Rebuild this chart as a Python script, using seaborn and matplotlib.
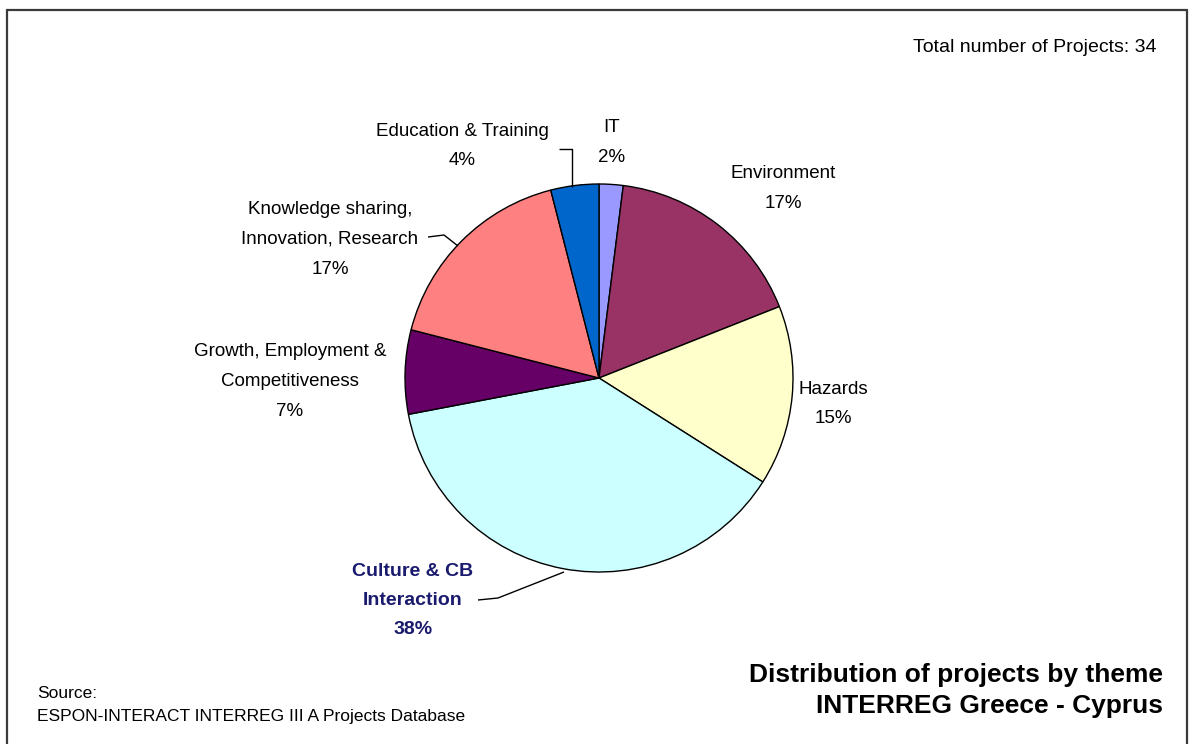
import matplotlib
matplotlib.use("Agg")
import matplotlib.pyplot as plt
import seaborn as sns

# Project themes (clockwise from 12 o'clock) and their shares in percent
themes = ["IT", "Environment", "Hazards", "Culture & CB\nInteraction",
          "Growth, Employment &\nCompetitiveness", "Knowledge sharing,\nInnovation, Research",
          "Education & Training"]
shares = [2, 17, 15, 38, 7, 17, 4]
theme_colors = ["#9999FF", "#993366", "#FFFFCC", "#CCFFFF", "#660066", "#FF8080", "#0066CC"]
total_projects = 34

sns.set_theme(style="white")
plt.rcParams["font.family"] = ["Liberation Sans", "DejaVu Sans"]
palette = sns.color_palette(theme_colors)

W, H = 1195, 744
fig = plt.figure(figsize=(W / 100, H / 100), dpi=100)
ax = fig.add_axes([0, 0, 1, 1])

def py(y):
    # pixel row (top-down) to axis y (bottom-up)
    return H - y

cx, cy, r = 599, 378, 194
ax.pie(shares, colors=palette, startangle=90, counterclock=False,
       center=(cx, py(cy)), radius=r, frame=True,
       wedgeprops=dict(edgecolor="black", linewidth=1.0))
ax.set_xlim(0, W)
ax.set_ylim(0, H)
ax.set_aspect("auto")
ax.axis("off")

# label anchor points (text centre of first line) in pixel coordinates
label_pos = [(612, 128), (783, 174), (833, 389), (413, 571), (290, 352), (330, 210), (462, 131)]
line_gap = 29.5
for name, val, (lx, ly) in zip(themes, shares, label_pos):
    lines = name.split("\n") + [f"{val}%"]
    bold = name.startswith("Culture")
    for i, t in enumerate(lines):
        ax.text(lx, py(ly + i * line_gap), t, ha="center", va="center",
                fontsize=13.5 if not bold else 14,
                fontweight="bold" if bold else "normal",
                color="#1a1a6e" if bold else "black")

# leader lines
leaders = [
    [(559, 149), (572, 149), (572, 187)],
    [(428, 237), (444, 235), (458, 246)],
    [(478, 600), (498, 598), (564, 572)],
]
for pts in leaders:
    xs = [p[0] for p in pts]
    ys = [py(p[1]) for p in pts]
    ax.plot(xs, ys, color="black", lw=1.0, solid_capstyle="butt")

# outer frame (left, top, right)
fc = "#3a3a3a"
ax.plot([7.5, 7.5], [py(10), 0], color=fc, lw=1.6)
ax.plot([7.5, 1187], [py(10), py(10)], color=fc, lw=1.6)
ax.plot([1187, 1187], [py(10), 0], color=fc, lw=1.6)

ax.text(1157, py(47), f"Total number of Projects: {total_projects}", ha="right", va="center",
        fontsize=14, color="black")
ax.text(1163, py(675), "Distribution of projects by theme", ha="right", va="center",
        fontsize=19, fontweight="bold", color="black")
ax.text(1163, py(706), "INTERREG Greece - Cyprus", ha="right", va="center",
        fontsize=19, fontweight="bold", color="black")
ax.text(37, py(693), "Source:", ha="left", va="center", fontsize=12.5, color="black")
ax.text(37, py(717), "ESPON-INTERACT INTERREG III A Projects Database", ha="left", va="center",
        fontsize=12.5, color="black")

fig.savefig("out.png", dpi=100, facecolor="white")
